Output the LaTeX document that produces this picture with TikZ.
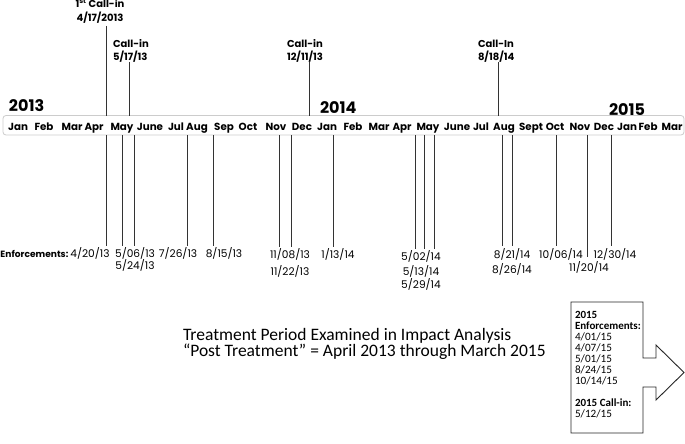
\documentclass[tikz,border=0pt]{standalone}
\usepackage{fontspec}
\newfontfamily\gothic{Poppins}
\newfontfamily\calib{Carlito}
\begin{document}
\begin{tikzpicture}[x=1pt,y=-1pt,
  lbl/.style={inner sep=0pt, outer sep=0pt},
  mon/.style={lbl, anchor=base, font=\gothic\bfseries\fontsize{10.3}{12}\selectfont},
  yr/.style={lbl, anchor=base west, font=\gothic\bfseries\fontsize{16}{18}\selectfont},
  call/.style={lbl, anchor=base west, font=\gothic\bfseries\fontsize{10}{12}\selectfont},
  dte/.style={lbl, anchor=base, font=\gothic\fontsize{10.6}{12}\selectfont},
  tick/.style={draw=black!80, line width=0.8pt},
  boxtxt/.style={lbl, anchor=base west, font=\calib\fontsize{11.2}{12}\selectfont},
  boxbold/.style={boxtxt, font=\calib\bfseries\fontsize{11}{12}\selectfont},
  bigtxt/.style={lbl, anchor=base west, font=\calib\fontsize{17.5}{19}\selectfont},
]
\useasboundingbox (0,0) rectangle (685,444);
\fill[white] (0,0) rectangle (685,444);

% timeline bar
\draw[draw=black!20, line width=0.8pt, rounded corners=3pt, fill=white] (3,115.5) rectangle (684,135);

% years
\node[yr] (y13) at (9,111) {2013};
\node[yr] (y14) at (320,113) {2014};
\node[yr] (y15) at (609,115) {2015};

% months
\foreach \m/\x [count=\i] in {Jan/18,Feb/44,Mar/72,Apr/94,May/122,June/150,Jul/176,Aug/197,Sep/224,Oct/248,Nov/276,Dec/302,Jan/327,Feb/353,Mar/379,Apr/402,May/428,June/457,Jul/481,Aug/504,Sept/531,Oct/555,Nov/580,Dec/604,Jan/627,Feb/648,Mar/672}
  \node[mon] (m\i) at (\x,130) {\m};

% call-ins
\node[call, anchor=base] (c1a) at (100,7.5) {1\textsuperscript{st} Call-in};
\node[call, anchor=base] (c1b) at (100,21.5) {4/17/2013};
\node[call] (c2a) at (113,48) {Call-in};
\node[call] (c2b) at (113,60) {5/17/13};
\node[call] (c3a) at (287,48) {Call-in};
\node[call] (c3b) at (287,60) {12/11/13};
\node[call] (c4a) at (478,48) {Call-In};
\node[call] (c4b) at (478,60) {8/18/14};

\foreach \n/\x/\y in {1/106/26,2/129/62,3/309/62,4/498/62}{
  \coordinate (ct\n) at (\x,\y);
  \coordinate (cb\n) at (\x,115.5);
  \draw[tick] (ct\n) -- (cb\n);
}

% enforcement ticks
\foreach \n/\x/\y in {1/106/246,2/122/246,3/134/246,4/187/246,5/213/246,6/279/247,7/291/247,8/333/247,9/415/249,10/424/249,11/434/249,12/502/246,13/512/246,14/556/246,15/587/257,16/611/246}{
  \coordinate (et\n) at (\x,135);
  \coordinate (eb\n) at (\x,\y);
  \draw[tick] (et\n) -- (eb\n);
}

% enforcement labels
\node[lbl, anchor=base west, font=\gothic\bfseries\fontsize{9.1}{12}\selectfont] (enf) at (0.5,257) {Enforcements:};
\node[dte] (d1) at (90,257) {4/20/13};
\node[dte] (d2) at (135,257) {5/06/13};
\node[dte] (d3) at (135,269) {5/24/13};
\node[dte] (d4) at (178,257) {7/26/13};
\node[dte] (d5) at (224,257) {8/15/13};
\node[dte] (d6) at (290,258.5) {11/08/13};
\node[dte] (d7) at (290,275) {11/22/13};
\node[dte] (d8) at (338,258.5) {1/13/14};
\node[dte] (d9) at (421,260) {5/02/14};
\node[dte] (d10) at (421,275.5) {5/13/14};
\node[dte] (d11) at (421,288) {5/29/14};
\node[dte] (d12) at (512,258) {8/21/14};
\node[dte] (d13) at (512,273) {8/26/14};
\node[dte] (d14) at (561,258) {10/06/14};
\node[dte] (d15) at (589,271) {11/20/14};
\node[dte] (d16) at (615,258) {12/30/14};

% bottom text
\node[bigtxt] (t1) at (183,340.5) {Treatment Period Examined in Impact Analysis};
\node[bigtxt] (t2) at (183,356.5) {“Post Treatment” = April 2013 through March 2015};

% box with arrow
\draw[draw=black!85, line width=0.9pt] (571,302) -- (643,302) -- (643,358) -- (656,358) -- (656,345) -- (684,372.5) -- (656,400) -- (656,387) -- (643,387) -- (643,433) -- (571,433) -- cycle;
\node[boxbold] (b1) at (575,318) {2015};
\node[boxbold] (b2) at (575,329) {Enforcements:};
\node[boxtxt] (b3) at (575,340) {4/01/15};
\node[boxtxt] (b4) at (575,351) {4/07/15};
\node[boxtxt] (b5) at (575,362) {5/01/15};
\node[boxtxt] (b6) at (575,373) {8/24/15};
\node[boxtxt] (b7) at (575,384) {10/14/15};
\node[boxbold] (b8) at (575,406) {2015 Call-in:};
\node[boxtxt] (b9) at (575,417) {5/12/15};
\end{tikzpicture}
\end{document}
